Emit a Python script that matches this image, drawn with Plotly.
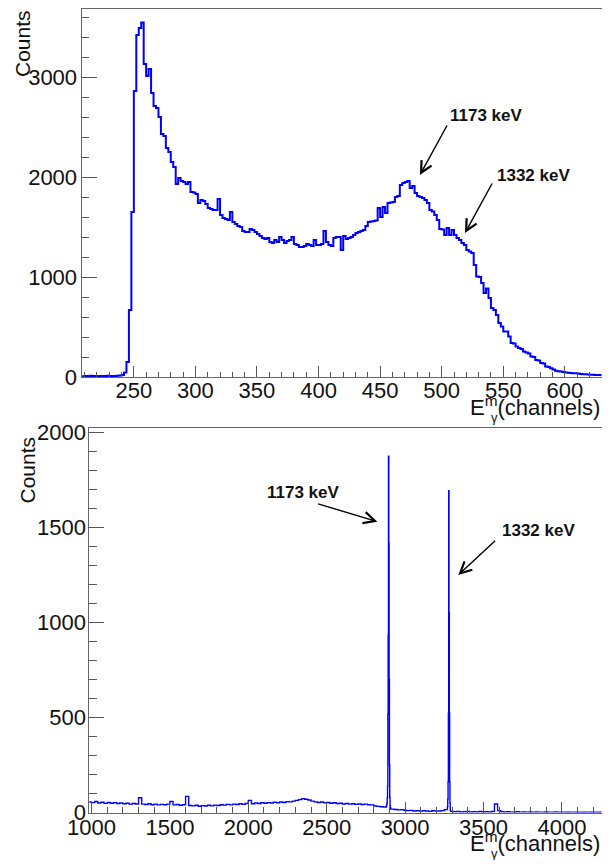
import plotly.graph_objects as go

# The page body adds an 8px margin on every side; keep the figure inside the window.
OFF = 8
W, H = 610 - 2 * OFF, 868 - 2 * OFF

# ---------------- data: top spectrum (2-channel bins starting at channel 208) ----------------
top_start = 208
top_bin = 2
top_counts = [
    8, 10, 8, 12, 9, 10, 8, 11, 10, 9, 12, 10, 11, 9, 12, 14,          # 208-238
    20, 45, 150, 670, 1650, 2860, 3420, 3490, 3545, 3130,               # 240-258
    3010, 3080, 2840, 2710, 2690, 2600, 2430, 2410, 2290, 2250,         # 260-278
    2150, 2100, 1930, 1990, 1960, 1950, 1930, 1950, 1850, 1845,         # 280-298
    1830, 1740, 1770, 1760, 1730, 1690, 1680, 1670, 1670, 1780,         # 300-318
    1620, 1590, 1580, 1570, 1650, 1550, 1530, 1510, 1500, 1460,         # 320-338
    1450, 1450, 1480, 1470, 1450, 1430, 1410, 1390, 1380, 1390,         # 340-358
    1350, 1340, 1370, 1350, 1400, 1370, 1340, 1360, 1370, 1400,         # 360-378
    1330, 1320, 1300, 1300, 1310, 1330, 1320, 1310, 1370, 1320,         # 380-398
    1320, 1330, 1460, 1350, 1320, 1310, 1390, 1400, 1400, 1270,         # 400-418
    1410, 1380, 1390, 1400, 1420, 1440, 1450, 1460, 1470, 1510,         # 420-438
    1550, 1555, 1560, 1565, 1690, 1600, 1700, 1640, 1740, 1745,         # 440-458
    1750, 1800, 1810, 1920, 1940, 1950, 1960, 1890, 1910, 1840,         # 460-478
    1810, 1800, 1790, 1770, 1740, 1670, 1655, 1620, 1570, 1480,         # 480-498
    1475, 1420, 1490, 1420, 1470, 1420, 1390, 1370, 1340, 1320,         # 500-518
    1270, 1255, 1240, 1120, 1005, 1000, 940, 840, 885, 790,             # 520-538
    690, 670, 620, 540, 505, 455, 455, 405, 340, 335,                   # 540-558
    305, 290, 280, 255, 245, 235, 205, 200, 170, 165,                   # 560-578
    140, 135, 105, 100, 88, 75, 63, 58, 55, 50,                         # 580-598
    45, 43, 40, 38, 37, 35, 30, 28, 27, 25,                             # 600-618
    22, 22, 20, 20, 20, 18, 20, 18, 18,                                 # 620-636
]

# ---------------- data: bottom spectrum (segments: start channel, bin width, counts) ----------------
bot_seg1_start, bot_seg1_bin = 980, 20
bot_seg1_counts = [
    55, 52, 58, 50, 54, 48, 53, 49, 52, 47,      # 980-1160
    50, 46, 49, 44, 47, 45, 78, 44, 42, 46,      # 1180-1360
    41, 44, 40, 43, 41, 44, 58, 40, 42, 38,      # 1380-1560
    41, 85, 37, 35, 38, 33, 36, 34, 38, 35,      # 1580-1760
    39, 37, 41, 39, 43, 40, 44, 42, 46, 43,      # 1780-1960
    47, 64, 46, 50, 47, 51, 49, 52, 50, 54,      # 1980-2160
    51, 55, 53, 57, 56, 60, 64, 68, 72, 70,      # 2180-2360
    66, 60, 56, 53, 55, 51, 53, 49, 51, 47,      # 2380-2560
    49, 45, 47, 44, 46, 43, 45, 42, 44, 41,      # 2580-2760
    40, 34, 32, 30, 29,                          # 2780-2860
]
bot_seg2_start, bot_seg2_bin = 2880, 2
bot_seg2_counts = [32, 40, 50, 78, 140, 520, 934, 1876, 1417, 700, 250, 80, 35, 25, 18]
bot_seg3_start, bot_seg3_bin = 2910, 20
bot_seg3_counts = [18, 16, 14, 15, 12, 10, 11, 8, 10, 7, 9, 8, 6, 9, 7, 8, 10, 15]
bot_seg4_start, bot_seg4_bin = 3270, 2
bot_seg4_counts = [30, 70, 162, 523, 1694, 1050, 523, 162, 50, 12]
bot_seg5_start, bot_seg5_bin = 3290, 20
bot_seg5_counts = [
    6, 4, 5, 3, 4, 5, 3, 4, 3, 5, 3, 4, 3, 5, 45, 10, 4, 3, 4, 2,
    3, 4, 2, 3, 2, 3, 2, 3, 2, 2, 3, 2, 2, 3, 2, 2, 2, 1, 2, 2,
    1, 2, 1, 2, 1, 1, 2, 1, 1, 1, 1,
]

# annotation labels
top_labels = ["1173 keV", "1332 keV"]
bot_labels = ["1173 keV", "1332 keV"]


def step_xy(start, width, counts):
    xs = [start + width * i for i in range(len(counts) + 1)]
    ys = list(counts) + [counts[-1]]
    return xs, ys


tx, ty = step_xy(top_start, top_bin, top_counts)

bx, by = [], []
for s, w, c in [
    (bot_seg1_start, bot_seg1_bin, bot_seg1_counts),
    (bot_seg2_start, bot_seg2_bin, bot_seg2_counts),
    (bot_seg3_start, bot_seg3_bin, bot_seg3_counts),
    (bot_seg4_start, bot_seg4_bin, bot_seg4_counts),
    (bot_seg5_start, bot_seg5_bin, bot_seg5_counts),
]:
    xs, ys = step_xy(s, w, c)
    bx += xs
    by += ys

BLUE = "#0000ff"
FONT = "Liberation Sans, Arial, Helvetica, sans-serif"

fig = go.Figure()
fig.add_trace(go.Scatter(x=tx, y=ty, mode="lines", xaxis="x", yaxis="y",
                         line=dict(color=BLUE, width=2, shape="hv"), hoverinfo="skip"))
fig.add_trace(go.Scatter(x=bx, y=by, mode="lines", xaxis="x2", yaxis="y2",
                         line=dict(color=BLUE, width=1.4, shape="hv"), hoverinfo="skip"))


def px(v):
    # window pixel -> paper fraction
    return min(1.0, max(0.0, (v - OFF) / W))


def py(v):
    return min(1.0, max(0.0, 1 - (v - OFF) / H))


RIGHT = OFF + W - 0.5   # rightmost usable window pixel

axis_common = dict(
    showgrid=False, zeroline=False, showline=True, mirror=True, automargin=False,
    linecolor="#666666", linewidth=1, ticks="inside", tickwidth=1,
    tickcolor="#555555", tickfont=dict(family=FONT, size=22, color="#111111"),
)

# channel ranges chosen so the pixel scale matches the reference
top_x1 = 250 + (RIGHT - 134) / 1.231
bot_x1 = 1000 + (RIGHT - 91.5) / 0.1568

fig.update_layout(
    width=W, height=H,
    margin=dict(l=0, r=0, t=0, b=0, pad=0),
    paper_bgcolor="white", plot_bgcolor="white",
    showlegend=False,
    xaxis=dict(axis_common, domain=[px(81.5), px(RIGHT)], range=[207.5, top_x1],
               anchor="y", tick0=0, dtick=50, ticklen=11, ticklabelstandoff=-6,
               minor=dict(ticks="inside", dtick=10, ticklen=5.5, tickcolor="#555555")),
    yaxis=dict(axis_common, domain=[py(377), py(8.5)], range=[0, 3685],
               anchor="x", tick0=0, dtick=1000, ticklen=15, ticklabelstandoff=-1,
               minor=dict(ticks="inside", dtick=200, ticklen=7.5, tickcolor="#555555")),
    xaxis2=dict(axis_common, domain=[px(89.3), px(RIGHT)], range=[986, bot_x1],
                anchor="y2", tick0=0, dtick=500, ticklen=11, ticklabelstandoff=-5,
                minor=dict(ticks="inside", dtick=100, ticklen=5.5, tickcolor="#555555")),
    yaxis2=dict(axis_common, domain=[py(812.5), py(428)], range=[0, 2024],
                anchor="x2", tick0=0, dtick=500, ticklen=15, ticklabelstandoff=-2,
                minor=dict(ticks="inside", dtick=100, ticklen=7.5, tickcolor="#555555")),
)

ann = []
# axis titles
ann.append(dict(text="Counts", textangle=-90, xref="paper", yref="paper",
                x=px(22.5), y=py(8), xanchor="center", yanchor="top", showarrow=False,
                font=dict(family=FONT, size=21, color="#111111")))
ann.append(dict(text="Counts", textangle=-90, xref="paper", yref="paper",
                x=px(27), y=py(435), xanchor="center", yanchor="top", showarrow=False,
                font=dict(family=FONT, size=21, color="#111111")))
for yc in (406, 842):
    ann.append(dict(text="E<sup>m</sup>(channels)", xref="paper", yref="paper",
                    x=1.0, y=py(yc), xanchor="right", yanchor="middle", showarrow=False,
                    font=dict(family=FONT, size=22, color="#111111")))
    ann.append(dict(text="γ", xref="paper", yref="paper",
                    x=px(RIGHT - 107), y=py(yc + 11), xanchor="center", yanchor="middle",
                    showarrow=False, font=dict(family=FONT, size=13, color="#111111")))

lab_font = dict(family=FONT, size=17, color="#111111")
# top labels and arrows
ann.append(dict(text="<b>%s</b>" % top_labels[0], x=505, y=2610, xref="x", yref="y",
                xanchor="left", yanchor="middle", showarrow=False, font=lab_font))
ann.append(dict(text="<b>%s</b>" % top_labels[1], x=543, y=2015, xref="x", yref="y",
                xanchor="left", yanchor="middle", showarrow=False, font=lab_font))
for (x0, y0, x1, y1) in [(505, 2530, 482.3, 2020), (541.6, 1950, 518.9, 1440)]:
    ann.append(dict(text="", x=x1, y=y1, ax=x0, ay=y0, xref="x", yref="y", axref="x", ayref="y",
                    showarrow=True, arrowhead=5, arrowsize=1.6, arrowwidth=1.4, arrowcolor="#000000"))
# bottom labels and arrows
ann.append(dict(text="<b>%s</b>" % bot_labels[0], x=2106, y=1687, xref="x2", yref="y2",
                xanchor="left", yanchor="middle", showarrow=False, font=lab_font))
ann.append(dict(text="<b>%s</b>" % bot_labels[1], x=3605, y=1482, xref="x2", yref="y2",
                xanchor="left", yanchor="middle", showarrow=False, font=lab_font))
for (x0, y0, x1, y1) in [(2436, 1627, 2823, 1531), (3584, 1438, 3339, 1250)]:
    ann.append(dict(text="", x=x1, y=y1, ax=x0, ay=y0, xref="x2", yref="y2", axref="x2", ayref="y2",
                    showarrow=True, arrowhead=5, arrowsize=1.6, arrowwidth=1.4, arrowcolor="#000000"))

fig.update_layout(annotations=ann)
fig.write_html("out.html")
